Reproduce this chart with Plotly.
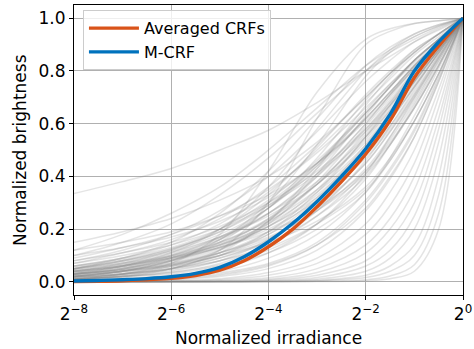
import math
import plotly.graph_objects as go

# exponents (log2 of normalized irradiance) at which the gray CRFs are sampled
GRAY_EXP = [-8, -7, -6, -5, -4, -3, -2, -1.5, -1, -0.5, 0]

GRAY_UPPER = [
    [0.335, 0.38, 0.43, 0.50, 0.575, 0.68, 0.80, 0.855, 0.91, 0.955, 1],
    [0.12, 0.18, 0.26, 0.36, 0.50, 0.66, 0.82, 0.88, 0.93, 0.97, 1],
    [0.10, 0.15, 0.22, 0.33, 0.47, 0.64, 0.80, 0.87, 0.92, 0.965, 1],
    [0.05, 0.09, 0.15, 0.26, 0.42, 0.62, 0.82, 0.89, 0.94, 0.975, 1],
    [0.03, 0.06, 0.11, 0.20, 0.36, 0.58, 0.80, 0.88, 0.94, 0.975, 1],
    [0.15, 0.19, 0.24, 0.31, 0.40, 0.53, 0.70, 0.79, 0.87, 0.94, 1],
    [0.02, 0.04, 0.08, 0.16, 0.30, 0.52, 0.78, 0.87, 0.93, 0.97, 1],
    [0.08, 0.12, 0.18, 0.27, 0.40, 0.57, 0.76, 0.84, 0.91, 0.96, 1],
    [0.01, 0.02, 0.05, 0.12, 0.30, 0.62, 0.90, 0.95, 0.98, 0.99, 1],
    [0.01, 0.03, 0.07, 0.18, 0.42, 0.72, 0.92, 0.96, 0.98, 0.99, 1],
]

GRAY_MAIN = [
    [0.06, 0.09, 0.13, 0.20, 0.31, 0.46, 0.64, 0.74, 0.83, 0.92, 1],
    [0.05, 0.08, 0.12, 0.18, 0.28, 0.43, 0.62, 0.72, 0.82, 0.91, 1],
    [0.04, 0.065, 0.10, 0.16, 0.26, 0.41, 0.60, 0.71, 0.81, 0.91, 1],
    [0.03, 0.05, 0.085, 0.14, 0.24, 0.40, 0.60, 0.71, 0.82, 0.91, 1],
    [0.02, 0.04, 0.07, 0.12, 0.22, 0.38, 0.59, 0.70, 0.81, 0.91, 1],
    [0.07, 0.10, 0.14, 0.20, 0.29, 0.41, 0.57, 0.67, 0.78, 0.89, 1],
    [0.05, 0.07, 0.10, 0.15, 0.23, 0.35, 0.52, 0.63, 0.75, 0.88, 1],
    [0.04, 0.06, 0.09, 0.14, 0.22, 0.34, 0.51, 0.62, 0.74, 0.87, 1],
    [0.03, 0.05, 0.08, 0.13, 0.21, 0.33, 0.50, 0.61, 0.74, 0.87, 1],
    [0.02, 0.035, 0.06, 0.10, 0.18, 0.31, 0.49, 0.61, 0.74, 0.87, 1],
    [0.01, 0.02, 0.04, 0.08, 0.16, 0.30, 0.50, 0.63, 0.76, 0.89, 1],
    [0.05, 0.075, 0.11, 0.17, 0.26, 0.38, 0.55, 0.65, 0.76, 0.88, 1],
    [0.035, 0.055, 0.085, 0.13, 0.20, 0.31, 0.47, 0.58, 0.71, 0.85, 1],
    [0.025, 0.04, 0.065, 0.11, 0.18, 0.29, 0.45, 0.57, 0.70, 0.85, 1],
    [0.015, 0.03, 0.05, 0.09, 0.16, 0.28, 0.45, 0.57, 0.71, 0.86, 1],
    [0.01, 0.02, 0.035, 0.07, 0.14, 0.27, 0.46, 0.59, 0.73, 0.87, 1],
    [0.04, 0.06, 0.09, 0.13, 0.19, 0.28, 0.42, 0.53, 0.66, 0.82, 1],
    [0.03, 0.045, 0.07, 0.11, 0.17, 0.27, 0.41, 0.52, 0.66, 0.82, 1],
    [0.02, 0.03, 0.05, 0.09, 0.15, 0.25, 0.40, 0.52, 0.66, 0.82, 1],
    [0.01, 0.02, 0.035, 0.065, 0.12, 0.22, 0.39, 0.52, 0.67, 0.83, 1],
    [0.005, 0.01, 0.025, 0.05, 0.11, 0.22, 0.41, 0.55, 0.70, 0.85, 1],
    [0.03, 0.045, 0.065, 0.10, 0.15, 0.23, 0.36, 0.47, 0.61, 0.79, 1],
    [0.02, 0.03, 0.05, 0.08, 0.13, 0.22, 0.35, 0.46, 0.61, 0.79, 1],
    [0.01, 0.02, 0.03, 0.06, 0.11, 0.20, 0.34, 0.46, 0.61, 0.79, 1],
    [0.005, 0.01, 0.02, 0.04, 0.09, 0.18, 0.34, 0.47, 0.63, 0.81, 1],
    [0.08, 0.11, 0.15, 0.21, 0.30, 0.42, 0.58, 0.68, 0.79, 0.90, 1],
    [0.09, 0.13, 0.18, 0.25, 0.35, 0.49, 0.66, 0.75, 0.84, 0.92, 1],
    [0.07, 0.11, 0.16, 0.24, 0.36, 0.52, 0.70, 0.79, 0.87, 0.94, 1],
    [0.04, 0.07, 0.12, 0.20, 0.33, 0.51, 0.71, 0.80, 0.88, 0.94, 1],
    [0.02, 0.04, 0.08, 0.15, 0.28, 0.47, 0.69, 0.79, 0.88, 0.94, 1],
    [0.01, 0.025, 0.05, 0.11, 0.23, 0.43, 0.67, 0.78, 0.87, 0.94, 1],
    [0.06, 0.09, 0.14, 0.22, 0.34, 0.50, 0.68, 0.77, 0.86, 0.93, 1],
    [0.03, 0.05, 0.09, 0.16, 0.28, 0.45, 0.65, 0.75, 0.84, 0.92, 1],
    [0.015, 0.03, 0.06, 0.12, 0.23, 0.41, 0.63, 0.74, 0.84, 0.92, 1],
    [0.12, 0.15, 0.19, 0.25, 0.33, 0.45, 0.61, 0.71, 0.81, 0.91, 1],
    [0.10, 0.13, 0.17, 0.23, 0.32, 0.45, 0.62, 0.72, 0.82, 0.91, 1],
    [0.045, 0.07, 0.105, 0.165, 0.26, 0.40, 0.58, 0.69, 0.80, 0.90, 1],
    [0.035, 0.055, 0.09, 0.145, 0.235, 0.37, 0.56, 0.67, 0.78, 0.89, 1],
    [0.025, 0.045, 0.075, 0.125, 0.21, 0.35, 0.55, 0.66, 0.78, 0.89, 1],
    [0.015, 0.03, 0.055, 0.10, 0.19, 0.34, 0.55, 0.67, 0.79, 0.90, 1],
    [0.055, 0.08, 0.115, 0.17, 0.25, 0.37, 0.53, 0.64, 0.76, 0.88, 1],
    [0.04, 0.06, 0.095, 0.15, 0.24, 0.37, 0.54, 0.65, 0.77, 0.88, 1],
    [0.02, 0.04, 0.065, 0.11, 0.19, 0.32, 0.52, 0.64, 0.76, 0.88, 1],
    [0.06, 0.085, 0.125, 0.19, 0.29, 0.44, 0.62, 0.72, 0.82, 0.91, 1],
    [0.03, 0.05, 0.08, 0.135, 0.225, 0.37, 0.57, 0.68, 0.80, 0.90, 1],
    [0.045, 0.065, 0.095, 0.14, 0.21, 0.32, 0.48, 0.59, 0.72, 0.86, 1],
    [0.025, 0.04, 0.06, 0.10, 0.165, 0.27, 0.43, 0.55, 0.69, 0.84, 1],
    [0.015, 0.025, 0.045, 0.08, 0.14, 0.25, 0.42, 0.54, 0.68, 0.84, 1],
    [0.05, 0.08, 0.125, 0.19, 0.30, 0.45, 0.64, 0.74, 0.84, 0.92, 1],
    [0.035, 0.06, 0.10, 0.17, 0.28, 0.44, 0.64, 0.74, 0.84, 0.92, 1],
]

GRAY_LOWER = [
    [0.0, 0.005, 0.01, 0.025, 0.06, 0.14, 0.30, 0.42, 0.57, 0.77, 1],
    [0.0, 0.003, 0.008, 0.02, 0.05, 0.12, 0.27, 0.39, 0.55, 0.76, 1],
    [0.0, 0.002, 0.005, 0.012, 0.035, 0.09, 0.22, 0.34, 0.50, 0.73, 1],
    [0.0, 0.001, 0.003, 0.008, 0.025, 0.07, 0.18, 0.29, 0.45, 0.70, 1],
    [0.0, 0.001, 0.002, 0.005, 0.015, 0.05, 0.14, 0.24, 0.40, 0.66, 1],
    [0.0, 0.0, 0.001, 0.003, 0.01, 0.035, 0.11, 0.20, 0.35, 0.62, 1],
    [0.0, 0.0, 0.001, 0.002, 0.007, 0.025, 0.08, 0.16, 0.30, 0.58, 1],
    [0.0, 0.0, 0.0, 0.001, 0.004, 0.016, 0.06, 0.12, 0.25, 0.53, 1],
    [0.0, 0.0, 0.0, 0.001, 0.003, 0.01, 0.04, 0.09, 0.20, 0.47, 1],
    [0.0, 0.0, 0.0, 0.0, 0.002, 0.006, 0.025, 0.06, 0.14, 0.40, 1],
    [0.0, 0.0, 0.0, 0.0, 0.001, 0.004, 0.016, 0.04, 0.10, 0.33, 1],
    [0.0, 0.0, 0.0, 0.0, 0.0, 0.002, 0.008, 0.022, 0.065, 0.26, 1],
    [0.01, 0.015, 0.02, 0.035, 0.07, 0.15, 0.31, 0.43, 0.58, 0.78, 1],
    [0.005, 0.008, 0.015, 0.03, 0.065, 0.14, 0.28, 0.40, 0.55, 0.76, 1],
    [0.0, 0.0, 0.0, 0.0, 0.0, 0.001, 0.004, 0.012, 0.04, 0.20, 1],
]

# the two highlighted curves, sampled every half stop
CURVE_EXP = [-8, -7.5, -7, -6.5, -6, -5.5, -5, -4.5, -4, -3.5, -3, -2.5, -2, -1.5, -1, -0.5, 0]
AVERAGED_CRF = [0.001, 0.002, 0.004, 0.008, 0.013, 0.024, 0.044, 0.08, 0.133, 0.20,
                0.285, 0.38, 0.485, 0.612, 0.775, 0.895, 1.0]
M_CRF = [0.003, 0.005, 0.008, 0.012, 0.019, 0.032, 0.055, 0.095, 0.152, 0.222,
         0.305, 0.40, 0.505, 0.635, 0.80, 0.91, 1.0]

TICK_EXP = [-8, -6, -4, -2, 0]
Y_TICKS = [0.0, 0.2, 0.4, 0.6, 0.8, 1.0]

gray_x = [2.0 ** e for e in GRAY_EXP]
curve_x = [2.0 ** e for e in CURVE_EXP]

fig = go.Figure()
for group in (GRAY_UPPER, GRAY_MAIN, GRAY_LOWER):
    for ys in group:
        fig.add_trace(go.Scatter(
            x=gray_x, y=ys, mode="lines", showlegend=False, hoverinfo="skip",
            line=dict(color="rgba(128,128,128,0.21)", width=1.5, shape="spline", smoothing=1.0),
        ))

fig.add_trace(go.Scatter(x=curve_x, y=AVERAGED_CRF, mode="lines", name="Averaged CRFs",
                         line=dict(color="#D95319", width=3.4, shape="spline", smoothing=1.0)))
fig.add_trace(go.Scatter(x=curve_x, y=M_CRF, mode="lines", name="M-CRF",
                         line=dict(color="#0072BD", width=3.4, shape="spline", smoothing=1.0)))

axis_common = dict(
    showgrid=True, gridcolor="#b0b0b0", gridwidth=0.8,
    showline=True, linecolor="black", linewidth=1, mirror=True,
    ticks="outside", ticklen=4, tickwidth=1, tickcolor="black",
    zeroline=False, automargin=False,
    tickfont=dict(size=17, family="DejaVu Sans", color="black"),
)

fig.update_layout(
    width=474, height=349,
    margin=dict(l=74, r=11, t=5, b=54),
    paper_bgcolor="white", plot_bgcolor="white",
    font=dict(family="DejaVu Sans", size=17, color="black"),
    xaxis=dict(
        type="log",
        range=[math.log10(2.0 ** -8), 0],
        tickvals=[2.0 ** e for e in TICK_EXP],
        ticktext=["2<sup>\u2212%d</sup>" % (-e) if e < 0 else "2<sup>0</sup>" for e in TICK_EXP],
        **axis_common,
    ),
    yaxis=dict(
        range=[-0.05, 1.05],
        tickvals=Y_TICKS,
        ticktext=["%.1f" % v for v in Y_TICKS],
        **axis_common,
    ),
    legend=dict(
        x=0.023, y=0.982, xanchor="left", yanchor="top",
        bgcolor="rgba(255,255,255,0.8)", bordercolor="#cccccc", borderwidth=1,
        font=dict(size=16), itemwidth=50,
    ),
    annotations=[
        dict(text="Normalized irradiance", xref="paper", yref="paper",
             x=0.5, y=-0.148, xanchor="center", yanchor="middle", showarrow=False,
             font=dict(size=17, family="DejaVu Sans", color="black")),
        dict(text="Normalized brightness", xref="paper", yref="paper",
             x=(20 - 74) / 389.0, y=0.5, xanchor="center", yanchor="middle",
             textangle=-90, showarrow=False,
             font=dict(size=17, family="DejaVu Sans", color="black")),
    ],
)

fig.write_html("out.html")
